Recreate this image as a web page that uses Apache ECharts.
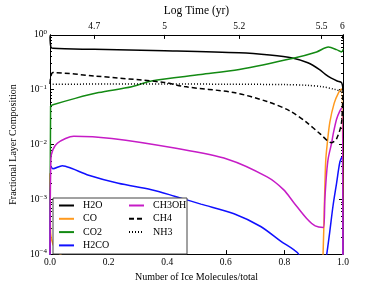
<!DOCTYPE html>
<html>
<head>
<meta charset="utf-8">
<script src="https://cdn.jsdelivr.net/npm/echarts@6/dist/echarts.min.js"></script>
<style>html,body{margin:0;padding:0;background:#fff}#c{width:382px;height:287px}</style>
</head>
<body>
<div id="c"></div>
<script>
// ---- data (x = number of ice molecules / total, y = fractional layer composition) ----
const seriesNames = ['H2O', 'CO', 'CO2', 'H2CO', 'CH3OH', 'CH4', 'NH3'];

const h2oX = [0, 0.003, 0.01, 0.151, 0.391, 0.646, 0.75, 0.827, 0.88, 0.92, 0.94, 0.96, 0.98, 0.995, 1.0];
const h2oY = [0.95, 0.6, 0.568, 0.545, 0.513, 0.47, 0.428, 0.379, 0.31, 0.233, 0.19, 0.162, 0.144, 0.135, 0.1];

const coX = [0, 0.002, 0.01, 0.025, 0.04, 0.06, 0.928, 0.932, 0.937, 0.941, 0.946, 0.955, 0.970, 0.985, 0.995, 1.0];
const coY = [0.003, 0.000243, 0.000152, 0.00011, 0.000093, 0.00005, 0.00005, 0.0001, 0.001, 0.00504, 0.01, 0.0253, 0.0568, 0.0886, 0.104, 0.00001];

const co2X = [0, 0.002, 0.01, 0.086, 0.166, 0.279, 0.346, 0.515, 0.646, 0.83, 0.91, 0.95, 0.978, 0.995, 1.0];
const co2Y = [0.00001, 0.0503, 0.053, 0.0695, 0.0886, 0.113, 0.144, 0.189, 0.234, 0.375, 0.489, 0.599, 0.539, 0.489, 0.545];

const h2coX = [0, 0.003, 0.01, 0.042, 0.075, 0.132, 0.233, 0.346, 0.425, 0.515, 0.628, 0.719, 0.786, 0.848, 0.87, 0.935, 0.944, 0.955, 0.966, 0.978, 0.989, 0.996, 1.0];
const h2coY = [0.00001, 0.00403, 0.0036, 0.00411, 0.00364, 0.00275, 0.00196, 0.0015, 0.00114, 0.000817, 0.000546, 0.000319, 0.000174, 0.000101, 0.00005, 0.00005, 0.000095, 0.00026, 0.000762, 0.00196, 0.0047, 0.00592, 0.00001];

const ch3ohX = [0, 0.003, 0.01, 0.025, 0.053, 0.081, 0.211, 0.425, 0.606, 0.741, 0.797, 0.831, 0.876, 0.905, 0.933, 0.938, 0.944, 0.95, 0.961, 0.966, 0.978, 0.989, 0.996, 1.0];
const ch3ohY = [0.00005, 0.00546, 0.00807, 0.01054, 0.0129, 0.0142, 0.0129, 0.00861, 0.00539, 0.00256, 0.0015, 0.000886, 0.000446, 0.000327, 0.000306, 0.001, 0.00298, 0.00575, 0.01054, 0.015, 0.0289, 0.0406, 0.0464, 0.00001];

const ch4X = [0, 0.003, 0.01, 0.15, 0.39, 0.458, 0.627, 0.741, 0.82, 0.876, 0.921, 0.961, 0.978, 0.995, 1.0];
const ch4Y = [0.127, 0.176, 0.205, 0.178, 0.136, 0.114, 0.0886, 0.0608, 0.0406, 0.0253, 0.0158, 0.0108, 0.0127, 0.0253, 0.117];

const nh3X = [0, 0.2, 0.4, 0.6, 0.8, 0.88, 0.93, 0.97, 0.995, 1.0];
const nh3Y = [0.125, 0.127, 0.127, 0.126, 0.124, 0.12, 0.113, 0.102, 0.0922, 0.09];

// top axis: Log Time (yr) tick labels and where they fall on the bottom scale
const topTickLabels = ['4.7', '5', '5.2', '5.5', '6'];
const topTickPos = [0.151, 0.391, 0.646, 0.927, 0.998];

const yMajorTicks = [0.0001, 0.001, 0.01, 0.1, 1];
const yMinorTicks = [];
[0.0001, 0.001, 0.01, 0.1].forEach(d => { for (let k = 2; k <= 9; k++) yMinorTicks.push(+(d * k).toPrecision(3)); });

// ---- chart ----
const FONT = 'Liberation Serif';
const zip = (xs, ys) => xs.map((x, i) => [x, ys[i]]);
const colors = {H2O: '#000000', CO: '#ff9a1f', CO2: '#138a13', H2CO: '#1010ff', CH3OH: '#c61cc6', CH4: '#000000', NH3: '#000000'};
const lineTypes = {CH4: [5, 3], NH3: [1, 2]};
const dataMap = {
  H2O: zip(h2oX, h2oY), CO: zip(coX, coY), CO2: zip(co2X, co2Y), H2CO: zip(h2coX, h2coY),
  CH3OH: zip(ch3ohX, ch3ohY), CH4: zip(ch4X, ch4Y), NH3: zip(nh3X, nh3Y)
};

const supLabel = v => {
  const e = Math.round(Math.log10(v));
  return '10{s|' + (e < 0 ? '\u2212' + (-e) : e) + '}';
};

const yBase = (extra) => Object.assign({
  type: 'log', logBase: 10, min: 0.0001, max: 1,
  splitLine: {show: false},
  axisLine: {show: true, lineStyle: {color: '#000', width: 1}},
}, extra);

const legendBase = {
  orient: 'vertical', top: 200.5, padding: 0,
  itemWidth: 15, itemHeight: 10, itemGap: 3.3, z: 10,
  itemStyle: {opacity: 0},
  lineStyle: {width: 2},
  textStyle: {fontFamily: FONT, fontSize: 10, color: '#000', lineHeight: 10, padding: [0, 0, 0, 4]}
};

const chart = echarts.init(document.getElementById('c'), null, {renderer: 'canvas'});
chart.setOption({
  animation: false,
  backgroundColor: '#fff',
  grid: {left: 48, right: 39, top: 29, bottom: 30},
  textStyle: {fontFamily: FONT},
  xAxis: [
    {
      type: 'value', min: 0, max: 1, interval: 0.2, position: 'bottom',
      name: 'Number of Ice Molecules/total', nameLocation: 'middle', nameGap: 15,
      nameTextStyle: {fontFamily: FONT, fontSize: 10, color: '#000'},
      axisLine: {show: true, lineStyle: {color: '#000', width: 1}},
      axisTick: {show: true, inside: true, length: 4, lineStyle: {color: '#000'}},
      axisLabel: {fontFamily: FONT, fontSize: 9.5, color: '#000', margin: 3, formatter: v => v.toFixed(1)},
      splitLine: {show: false}
    },
    {
      type: 'value', min: 0, max: 1, position: 'top',
      name: 'Log Time (yr)', nameLocation: 'middle', nameGap: 16,
      nameTextStyle: {fontFamily: FONT, fontSize: 11.5, color: '#000'},
      axisLine: {show: true, lineStyle: {color: '#000', width: 1}},
      axisTick: {show: true, inside: true, length: 4, customValues: topTickPos, lineStyle: {color: '#000'}},
      axisLabel: {fontFamily: FONT, fontSize: 9.5, color: '#000', margin: 3, customValues: topTickPos,
        formatter: v => { const i = topTickPos.findIndex(p => Math.abs(p - v) < 1e-6); return i >= 0 ? topTickLabels[i] : ''; }},
      splitLine: {show: false}
    }
  ],
  yAxis: [
    yBase({
      position: 'left',
      name: 'Fractional Layer Composition', nameLocation: 'middle', nameGap: 32,
      nameTextStyle: {fontFamily: FONT, fontSize: 10, color: '#000'},
      axisTick: {show: true, inside: true, length: 4, customValues: yMajorTicks, lineStyle: {color: '#000'}},
      axisLabel: {fontFamily: FONT, fontSize: 9.5, color: '#000', margin: 3, customValues: yMajorTicks,
        formatter: supLabel,
        rich: {s: {fontFamily: FONT, fontSize: 7, verticalAlign: 'top', padding: [0, 0, 5, 0], color: '#000'}}}
    }),
    yBase({
      position: 'left',
      axisTick: {show: true, inside: true, length: 2, customValues: yMinorTicks, lineStyle: {color: '#000'}},
      axisLabel: {show: false}
    }),
    yBase({
      position: 'right',
      axisTick: {show: true, inside: true, length: 4, customValues: yMajorTicks, lineStyle: {color: '#000'}},
      axisLabel: {show: false}
    }),
    yBase({
      position: 'right',
      axisTick: {show: true, inside: true, length: 2, customValues: yMinorTicks, lineStyle: {color: '#000'}},
      axisLabel: {show: false}
    })
  ],
  legend: [
    Object.assign({data: seriesNames.slice(0, 4), left: 58}, legendBase),
    Object.assign({data: seriesNames.slice(4), left: 128}, legendBase)
  ],
  graphic: {elements: [{
    type: 'rect', left: 52.5, top: 197.5, z: 5,
    shape: {width: 134, height: 56},
    style: {fill: '#fff', stroke: '#444', lineWidth: 1}
  }]},
  series: seriesNames.map(n => ({
    name: n, type: 'line', xAxisIndex: 0, yAxisIndex: 0,
    data: dataMap[n], symbol: 'none', showSymbol: false, smooth: 0.3,
    clip: true, z: 2,
    lineStyle: {color: colors[n], width: 1.5, type: lineTypes[n] || 'solid'},
    itemStyle: {color: colors[n]}
  }))
});
</script>
</body>
</html>
